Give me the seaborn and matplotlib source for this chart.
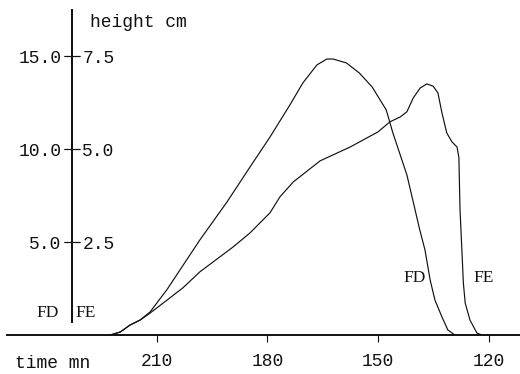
import numpy as np
import pandas as pd
import matplotlib
matplotlib.use("Agg")
import matplotlib.pyplot as plt
import seaborn as sns

# Elution profiles: time (min) against peak height (cm)
fd_time = [222.6, 219.9, 217.2, 214.5, 211.8, 207.2, 203.1, 198.3, 191.0, 184.7,
           179.3, 173.9, 170.4, 166.6, 163.9, 162.2, 158.6, 155.1, 151.6, 147.8,
           146.0, 142.2, 138.7, 137.3, 135.9, 134.6, 132.7, 131.1, 129.2]
fd_height = [0.0, 0.16, 0.54, 0.81, 1.24, 2.45, 3.68, 5.12, 7.15, 9.05,
             10.66, 12.39, 13.57, 14.54, 14.86, 14.86, 14.65, 14.11, 13.35, 12.12,
             10.88, 8.62, 5.65, 4.58, 2.96, 1.88, 0.97, 0.27, 0.0]

fe_time = [222.6, 219.9, 217.2, 214.5, 211.8, 207.2, 202.9, 198.3, 189.3, 184.7,
           179.3, 176.6, 173.0, 165.7, 157.6, 150.0, 146.8, 144.0, 142.2, 140.5,
           138.6, 136.8, 135.1, 133.8, 132.7, 131.4, 130.0, 128.6, 128.1, 128.0,
           127.8, 127.3, 126.9, 126.4, 125.1, 123.2, 121.8]
fe_height = [0.0, 0.08, 0.27, 0.40, 0.59, 0.94, 1.27, 1.70, 2.37, 2.75,
             3.29, 3.72, 4.12, 4.69, 5.06, 5.47, 5.74, 5.87, 6.01, 6.38,
             6.65, 6.76, 6.70, 6.52, 5.98, 5.44, 5.20, 5.06, 4.77, 4.25,
             3.37, 2.29, 1.40, 0.86, 0.40, 0.05, 0.0]

time_ticks = [210, 180, 150, 120]
fd_ticks = [5.0, 10.0, 15.0]
fe_ticks = [2.5, 5.0, 7.5]

sns.set_theme(style="ticks")
plt.rcParams["font.family"] = ["Liberation Mono", "DejaVu Sans"]

W, H = 520, 374
fig = plt.figure(figsize=(W / 100, H / 100), dpi=100)
x0, x1, ytop, ybot = 7, 520, 10, 335
ax = fig.add_axes([x0 / W, 1 - ybot / H, (x1 - x0) / W, (ybot - ytop) / H])
ax2 = ax.twinx()

fd = pd.DataFrame({"time": fd_time, "height": fd_height})
fe = pd.DataFrame({"time": fe_time, "height": fe_height})

sns.lineplot(data=fd, x="time", y="height", ax=ax, color="#111111",
             linewidth=0.85, sort=False, estimator=None)
sns.lineplot(data=fe, x="time", y="height", ax=ax2, color="#111111",
             linewidth=0.85, sort=False, estimator=None)

axis_t = 232.95
ax.set_xlim(250.57, 111.55)
ax.set_ylim(0, 17.5)
ax2.set_ylim(0, 8.75)

for a in (ax, ax2):
    a.set_xlabel("")
    a.set_ylabel("")
    a.set_facecolor("none")
    for s in a.spines.values():
        s.set_visible(False)

ax.spines["bottom"].set_visible(True)
ax.spines["bottom"].set_linewidth(1.4)
ax.spines["bottom"].set_color("#111111")
ax.spines["left"].set_visible(True)
ax.spines["left"].set_position(("data", axis_t))
ax.spines["left"].set_bounds(0.7, 17.5)
ax.spines["left"].set_linewidth(1.3)
ax.spines["left"].set_color("#111111")

ax2.spines["right"].set_visible(True)
ax2.spines["right"].set_position(("data", axis_t))
ax2.spines["right"].set_bounds(0.35, 8.75)
ax2.spines["right"].set_linewidth(1.3)
ax2.spines["right"].set_color("#111111")

ax.set_xticks(time_ticks)
ax.set_xticklabels([str(t) for t in time_ticks])
ax.tick_params(axis="x", direction="out", length=5, width=0.8, pad=8,
               labelsize=13, colors="#111111")

ax.set_yticks(fd_ticks)
ax.set_yticklabels([f"{v:.1f}" for v in fd_ticks])
ax.tick_params(axis="y", direction="inout", length=11, width=0.8, pad=2,
               labelsize=13, colors="#111111")

ax2.set_yticks(fe_ticks)
ax2.set_yticklabels([f"{v:.1f}" for v in fe_ticks])
ax2.tick_params(axis="y", direction="inout", length=11, width=0.8, pad=2,
                labelsize=13, colors="#111111")

ax.text(228.1, 16.85, "height cm", fontsize=13, ha="left", va="center",
        color="#111111")
fig.text(15 / W, 1 - 363 / H, "time mn", fontsize=13, ha="left",
         va="center", color="#111111")

serif = ["Liberation Serif", "DejaVu Serif"]
ax.text(236.6, 1.18, "FD", family=serif, fontsize=12.5, ha="right",
        va="center", color="#111111")
ax.text(232.0, 1.18, "FE", family=serif, fontsize=12.5, ha="left",
        va="center", color="#111111")
ax.text(140.0, 3.07, "FD", family=serif, fontsize=12.5, ha="center",
        va="center", color="#111111")
ax.text(121.3, 3.07, "FE", family=serif, fontsize=12.5, ha="center",
        va="center", color="#111111")

fig.savefig("out.png", dpi=100)
